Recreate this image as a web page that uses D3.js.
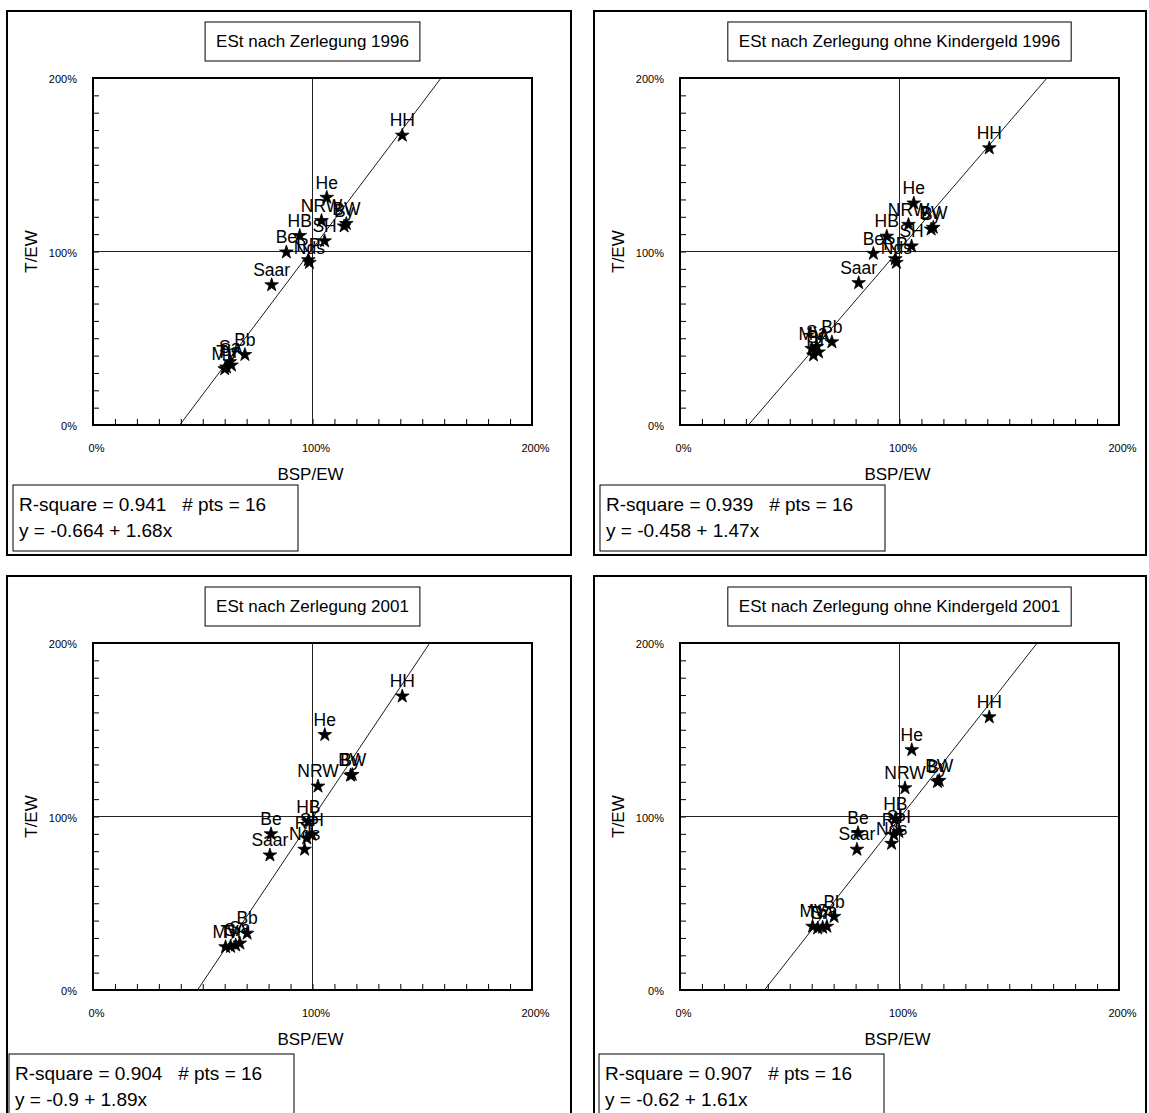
<!DOCTYPE html>
<html>
<head>
<meta charset="utf-8">
<title>ESt nach Zerlegung</title>
<script src="https://d3js.org/d3.v7.min.js"></script>
<style>
  body { margin: 0; background: #fff; }
  svg { display: block; font-family: 'Liberation Sans', Arial, sans-serif; }
  svg text { fill: #000; }
</style>
</head>
<body>
<script>
// Laender (16 pts)
var states = ["BW", "By", "Be", "Bb", "HB", "HH", "He", "MV", "Nds", "NRW", "RP", "Saar", "Sa", "SA", "SH", "Th"];

// BSP/EW (x)
var bsp1996 = [1.154, 1.144, 0.881, 0.692, 0.942, 1.409, 1.065, 0.600, 0.986, 1.041, 0.981, 0.814, 0.623, 0.631, 1.055, 0.608];
var bsp2001 = [1.181, 1.173, 0.811, 0.702, 0.981, 1.409, 1.056, 0.604, 0.964, 1.025, 0.974, 0.806, 0.669, 0.650, 0.997, 0.627];

// T/EW (y)
var est1996         = [1.160, 1.146, 0.996, 0.405, 1.091, 1.669, 1.311, 0.323, 0.936, 1.177, 0.951, 0.807, 0.364, 0.344, 1.060, 0.333];
var estOhneKg1996   = [1.138, 1.128, 0.988, 0.478, 1.087, 1.596, 1.278, 0.440, 0.936, 1.155, 0.957, 0.819, 0.452, 0.420, 1.031, 0.402];
var est2001         = [1.241, 1.237, 0.899, 0.326, 0.970, 1.693, 1.471, 0.248, 0.810, 1.174, 0.875, 0.777, 0.269, 0.258, 0.895, 0.250];
var estOhneKg2001   = [1.207, 1.200, 0.905, 0.423, 0.985, 1.573, 1.384, 0.366, 0.844, 1.164, 0.895, 0.810, 0.366, 0.360, 0.912, 0.356];

var titles = [
  "ESt nach Zerlegung 1996",
  "ESt nach Zerlegung ohne Kindergeld 1996",
  "ESt nach Zerlegung 2001",
  "ESt nach Zerlegung ohne Kindergeld 2001"
];
var rSquare    = ["0.941", "0.939", "0.904", "0.907"];
var intercepts = [-0.664, -0.458, -0.9, -0.62];
var slopes     = [1.68, 1.47, 1.89, 1.61];
var nPts = 16;

var tickValues = [0, 1, 2];
var tickLabels = ["0%", "100%", "200%"];
var xTitle = "BSP/EW";
var yTitle = "T/EW";

var panels = [
  { xs: bsp1996, ys: est1996 },
  { xs: bsp1996, ys: estOhneKg1996 },
  { xs: bsp2001, ys: est2001 },
  { xs: bsp2001, ys: estOhneKg2001 }
];

// frame boxes of the four charts
var frames = [
  { fx: 7,   fy: 11,  fw: 564, fh: 544, sx: 6, sy: 474 },
  { fx: 594, fy: 11,  fw: 552, fh: 544, sx: 6, sy: 474 },
  { fx: 7,   fy: 576, fw: 564, fh: 544, sx: 2, sy: 478 },
  { fx: 594, fy: 576, fw: 552, fh: 544, sx: 5, sy: 478 }
];

var W = 1149, H = 1113;
var pw = 439, ph = 347;

var svg = d3.select("body").append("svg")
  .attr("width", W)
  .attr("height", H);

panels.forEach(function(p, k) {
  var f = frames[k];
  var g = svg.append("g").attr("transform", "translate(" + f.fx + "," + f.fy + ")");

  // outer frame
  g.append("rect")
    .attr("x", 0).attr("y", 0)
    .attr("width", f.fw).attr("height", f.fh)
    .attr("fill", "none").attr("stroke", "#000").attr("stroke-width", 2);

  var px = 86, py = 67;
  var x = d3.scaleLinear().domain([0, 2]).range([0, pw]);
  var y = d3.scaleLinear().domain([0, 2]).range([ph, 0]);

  // title box
  var tg = g.append("g");
  var tt = tg.append("text")
    .attr("x", px + pw / 2).attr("y", 36)
    .attr("text-anchor", "middle")
    .attr("font-size", "17px")
    .text(titles[k]);
  var tw = tt.node().getComputedTextLength();
  tg.insert("rect", "text")
    .attr("x", px + pw / 2 - tw / 2 - 11).attr("y", 11)
    .attr("width", tw + 22).attr("height", 39)
    .attr("fill", "#fff").attr("stroke", "#000").attr("stroke-width", 1);

  var plot = g.append("g").attr("transform", "translate(" + px + "," + py + ")");

  plot.append("clipPath").attr("id", "clip" + k)
    .append("rect").attr("width", pw).attr("height", ph);

  // minor ticks, inside
  plot.append("g")
    .call(d3.axisLeft(y).tickValues(y.ticks(20)).tickSize(-6).tickFormat(""))
    .call(function(a) { a.select(".domain").remove(); a.selectAll("line").attr("stroke", "#000"); });
  plot.append("g")
    .attr("transform", "translate(0," + ph + ")")
    .call(d3.axisBottom(x).tickValues(x.ticks(20)).tickSize(-6).tickFormat(""))
    .call(function(a) { a.select(".domain").remove(); a.selectAll("line").attr("stroke", "#000"); });

  // tick labels
  plot.append("g")
    .call(d3.axisLeft(y).tickValues(tickValues).tickSize(0).tickPadding(16)
      .tickFormat(function(d, i) { return tickLabels[i]; }))
    .call(function(a) {
      a.select(".domain").remove();
      a.selectAll("text").attr("font-size", "11px").attr("font-family", null).attr("dy", "0.45em");
    });
  plot.append("g")
    .attr("transform", "translate(0," + ph + ")")
    .call(d3.axisBottom(x).tickValues(tickValues).tickSize(0).tickPadding(19)
      .tickFormat(function(d, i) { return tickLabels[i]; }))
    .call(function(a) {
      a.select(".domain").remove();
      a.selectAll("text").attr("font-size", "11px").attr("font-family", null).attr("dx", "3");
    });

  // 100% cross lines
  plot.append("line")
    .attr("x1", x(1)).attr("x2", x(1)).attr("y1", 0).attr("y2", ph)
    .attr("stroke", "#222").attr("stroke-width", 1);
  plot.append("line")
    .attr("x1", 0).attr("x2", pw).attr("y1", y(1)).attr("y2", y(1))
    .attr("stroke", "#222").attr("stroke-width", 1);

  // regression line
  var fit = d3.line()
    .x(function(d) { return x(d); })
    .y(function(d) { return y(intercepts[k] + slopes[k] * d); });
  plot.append("path")
    .datum(x.domain())
    .attr("d", fit)
    .attr("clip-path", "url(#clip" + k + ")")
    .attr("fill", "none").attr("stroke", "#000").attr("stroke-width", 0.9);

  // plot border
  plot.append("rect")
    .attr("width", pw).attr("height", ph)
    .attr("fill", "none").attr("stroke", "#000").attr("stroke-width", 2);

  // points
  var star = d3.symbol().type(d3.symbolStar).size(58);
  var pts = plot.append("g").selectAll("g")
    .data(states)
    .enter().append("g")
    .attr("transform", function(d, i) { return "translate(" + x(p.xs[i]) + "," + y(p.ys[i]) + ")"; });
  pts.append("path").attr("d", star)
    .attr("fill", "#000").attr("stroke", "#000").attr("stroke-width", 0.8)
    .attr("stroke-linejoin", "round");
  pts.append("text")
    .attr("y", -9)
    .attr("text-anchor", "middle")
    .attr("font-size", "17.5px")
    .text(function(d) { return d; });

  // axis titles
  g.append("text")
    .attr("transform", "translate(" + 24 + "," + (py + ph / 2) + ") rotate(-90)")
    .attr("text-anchor", "middle")
    .attr("dy", "0.35em")
    .attr("font-size", "17px")
    .text(yTitle);
  g.append("text")
    .attr("x", px + pw / 2 - 2).attr("y", py + ph + 49)
    .attr("text-anchor", "middle")
    .attr("dy", "0.35em")
    .attr("font-size", "17px")
    .text(xTitle);

  // stats box
  g.append("rect")
    .attr("x", f.sx).attr("y", f.sy)
    .attr("width", 285).attr("height", 66)
    .attr("fill", "#fff").attr("stroke", "#000").attr("stroke-width", 1);
  g.append("text")
    .attr("x", f.sx + 6).attr("y", f.sy + 26)
    .attr("font-size", "19px")
    .style("white-space", "pre")
    .text("R-square = " + rSquare[k] + "   # pts = " + nPts);
  g.append("text")
    .attr("x", f.sx + 6).attr("y", f.sy + 52)
    .attr("font-size", "19px")
    .text("y = " + intercepts[k] + " + " + slopes[k] + "x");
});
</script>
</body>
</html>
